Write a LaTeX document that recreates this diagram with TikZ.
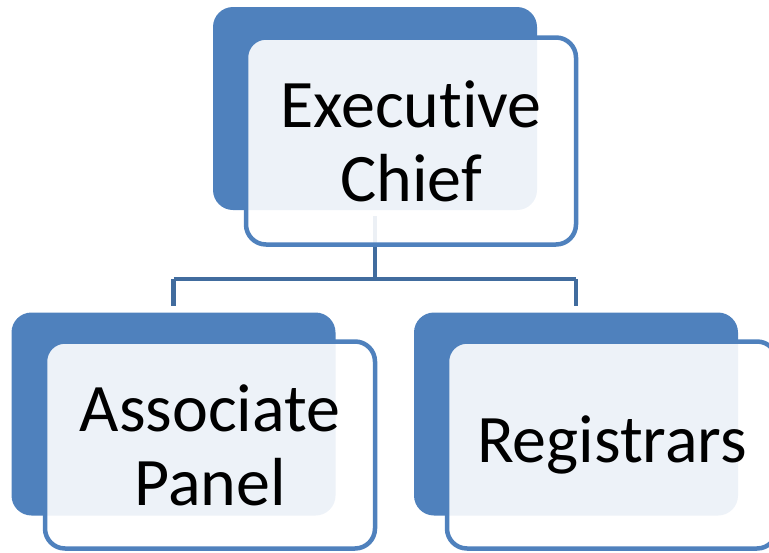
\documentclass[tikz,border=0pt]{standalone}
\usepackage{fontspec}
\setmainfont{Carlito}[Ligatures={NoCommon}]
\definecolor{boxblue}{RGB}{79,129,189}
\definecolor{connblue}{RGB}{65,108,158}
\tikzset{
  backbox/.style={rectangle, rounded corners=20pt, fill=boxblue, draw=none,
    minimum width=324pt, minimum height=203pt, inner sep=0pt},
  frontbox/.style={rectangle, rounded corners=20pt, draw=boxblue, line width=4.5pt,
    fill=white, fill opacity=0.9, text opacity=1,
    minimum width=330pt, minimum height=207pt, inner sep=0pt, align=center,
    font=\fontsize{68pt}{74pt}\selectfont},
  conn/.style={draw=connblue, line width=4.5pt}
}
\begin{document}
\begin{tikzpicture}[x=1pt,y=-1pt]
\useasboundingbox (0,0) rectangle (769,552);
\clip (0,0) rectangle (769,552);
% back boxes
\node[backbox] (ecb) at (375,108.5) {};
\node[backbox] (apb) at (173.5,414) {};
\node[backbox] (rgb) at (576,414) {};
% connectors
\coordinate (bus) at (375,279);
\draw[conn] ([yshift=-6pt]ecb.south) -- (bus);
\draw[conn] (apb.north |- bus) -- (rgb.north |- bus);
\draw[conn] (apb.north |- bus) -- ([yshift=6pt]apb.north);
\draw[conn] (rgb.north |- bus) -- ([yshift=6pt]rgb.north);
% front boxes
\node[frontbox] (ec) at (411,141) {Executive\\Chief};
\node[frontbox] (ap) at (210,445) {Associate\\Panel};
\node[frontbox] (rg) at (612,445) {Registrars};
\end{tikzpicture}
\end{document}
